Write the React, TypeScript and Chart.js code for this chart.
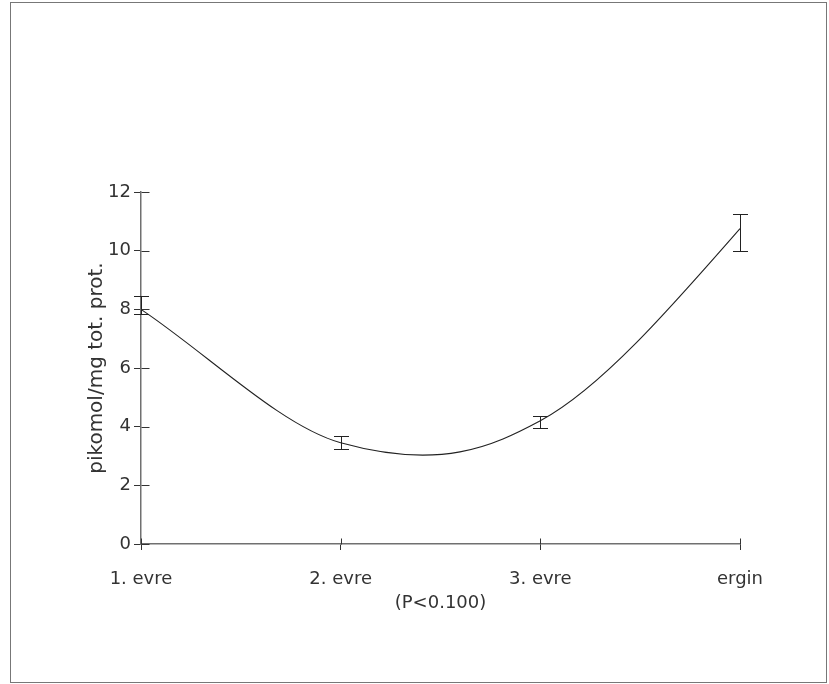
import React, { useEffect, useRef } from "react";
import { Chart, registerables } from "chart.js";

Chart.register(...registerables);

const categories = ["1. evre", "2. evre", "3. evre", "ergin"];
const meanValues = [8.0, 3.45, 4.2, 10.75];
const errorLow = [7.83, 3.25, 3.95, 10.0];
const errorHigh = [8.47, 3.68, 4.35, 11.25];
const yTickValues = [0, 2, 4, 6, 8, 10, 12];
const yAxisTitle = "pikomol/mg tot. prot.";
const xAxisTitle = "(P<0.100)";

// smoothing handle factors (incoming, outgoing) per point
const handleIn = [0, 0.15, 0.12, 0];
const handleOut = [0, 0.25, 0.15, 0];

const FONT = "DejaVu Sans";
const TEXT = "#333333";
const AXIS = "#707070";

const smoothPlugin = {
  id: "smoothCurve",
  beforeDatasetsDraw(chart: any) {
    const meta = chart.getDatasetMeta(0);
    const line = meta.dataset;
    if (!line) return;
    line.updateControlPoints(chart.chartArea, meta.iScale.axis);
    const pts = meta.data;
    const n = pts.length;
    for (let i = 1; i < n - 1; i++) {
      const p = pts[i];
      const dx = pts[i + 1].x - pts[i - 1].x;
      const dy = pts[i + 1].y - pts[i - 1].y;
      p.cp1x = p.x - handleIn[i] * dx;
      p.cp1y = p.y - handleIn[i] * dy;
      p.cp2x = p.x + handleOut[i] * dx;
      p.cp2y = p.y + handleOut[i] * dy;
    }
    const p0 = pts[0];
    const p1 = pts[1];
    p0.cp1x = p0.x;
    p0.cp1y = p0.y;
    p0.cp2x = p0.x + (p1.x - p0.x) / 3;
    p0.cp2y = p0.y + (p1.y - p0.y) / 3;
    const pl = pts[n - 1];
    const pp = pts[n - 2];
    pl.cp1x = (pl.x + pp.cp2x) / 2;
    pl.cp1y = (pl.y + pp.cp2y) / 2;
    pl.cp2x = pl.x;
    pl.cp2y = pl.y;
    line._path = undefined;
  },
};

const errorBarPlugin = {
  id: "errorBars",
  afterDatasetsDraw(chart: any) {
    const { ctx, scales } = chart;
    const x = scales.x;
    const y = scales.y;
    ctx.save();
    ctx.strokeStyle = "#222222";
    ctx.lineWidth = 1;
    for (let i = 0; i < categories.length; i++) {
      const px = Math.round(x.getPixelForValue(i)) + 0.5;
      const yl = Math.round(y.getPixelForValue(errorLow[i])) + 0.5;
      const yh = Math.round(y.getPixelForValue(errorHigh[i])) + 0.5;
      ctx.beginPath();
      ctx.moveTo(px, yl);
      ctx.lineTo(px, yh);
      ctx.moveTo(px - 7.5, yl);
      ctx.lineTo(px + 7.5, yl);
      ctx.moveTo(px - 7.5, yh);
      ctx.lineTo(px + 7.5, yh);
      ctx.stroke();
    }
    ctx.restore();
  },
};

const innerTicksPlugin = {
  id: "innerTicks",
  afterDraw(chart: any) {
    const { ctx, scales } = chart;
    const x = scales.x;
    const y = scales.y;
    ctx.save();
    ctx.strokeStyle = TEXT;
    ctx.lineWidth = 1;
    ctx.beginPath();
    const axisY = Math.round(y.getPixelForValue(0)) + 0.5;
    x.ticks.forEach((_t: any, i: number) => {
      const px = Math.round(x.getPixelForTick(i)) + 0.5;
      ctx.moveTo(px, axisY);
      ctx.lineTo(px, axisY - 6);
    });
    const axisX = Math.round(x.getPixelForValue(0)) + 0.5;
    y.ticks.forEach((_t: any, i: number) => {
      const py = Math.round(y.getPixelForTick(i)) + 0.5;
      ctx.moveTo(axisX, py);
      ctx.lineTo(axisX + 8, py);
    });
    ctx.stroke();
    ctx.restore();
  },
};

export default function App() {
  const canvasRef = useRef<HTMLCanvasElement | null>(null);

  useEffect(() => {
    if (!canvasRef.current) return;
    const chart = new Chart(canvasRef.current, {
      type: "line",
      data: {
        labels: categories,
        datasets: [
          {
            data: meanValues,
            borderColor: "#222222",
            borderWidth: 1.1,
            pointRadius: 0,
            tension: 0.4,
            capBezierPoints: false,
            fill: false,
          },
        ],
      },
      options: {
        responsive: false,
        animation: false,
        devicePixelRatio: 1,
        layout: { padding: { left: 0, right: 89, top: 192, bottom: 0 } },
        plugins: {
          legend: { display: false },
          tooltip: { enabled: false },
          title: { display: false },
        },
        scales: {
          x: {
            type: "category",
            offset: false,
            grid: {
              display: true,
              drawOnChartArea: false,
              drawTicks: true,
              tickLength: 6,
              color: TEXT,
              lineWidth: 1,
            },
            border: { display: true, color: AXIS, width: 1.5 },
            ticks: {
              padding: 19,
              color: TEXT,
              font: { family: FONT, size: 18 },
              maxRotation: 0,
            },
            title: {
              display: true,
              text: xAxisTitle,
              color: TEXT,
              font: { family: FONT, size: 18 },
              padding: { top: 0, bottom: 70 },
            },
            afterFit: (s: any) => {
              s.height = 140;
            },
          },
          y: {
            type: "linear",
            min: 0,
            max: 12,
            afterBuildTicks: (s: any) => {
              s.ticks = yTickValues.map((v) => ({ value: v }));
            },
            grid: {
              display: true,
              drawOnChartArea: false,
              drawTicks: true,
              tickLength: 7,
              color: TEXT,
              lineWidth: 1,
            },
            border: { display: true, color: AXIS, width: 1.5 },
            ticks: {
              padding: 3,
              color: TEXT,
              font: { family: FONT, size: 18 },
            },
            title: {
              display: true,
              text: yAxisTitle,
              color: TEXT,
              font: { family: FONT, size: 20 },
              padding: { top: 85, bottom: 0 },
            },
            afterFit: (s: any) => {
              s.width = 141;
            },
          },
        },
      },
      plugins: [smoothPlugin, errorBarPlugin, innerTicksPlugin],
    });
    return () => chart.destroy();
  }, []);

  return (
    <div style={{ position: "absolute", left: 0, top: 0, width: 829, height: 684, background: "#ffffff" }}>
      <div
        style={{
          position: "absolute",
          left: 10,
          top: 2,
          width: 815,
          height: 679,
          border: "1px solid #777777",
        }}
      />
      <canvas
        ref={canvasRef}
        width={829}
        height={684}
        style={{ position: "absolute", left: 0, top: 0, width: 829, height: 684 }}
      />
    </div>
  );
}
